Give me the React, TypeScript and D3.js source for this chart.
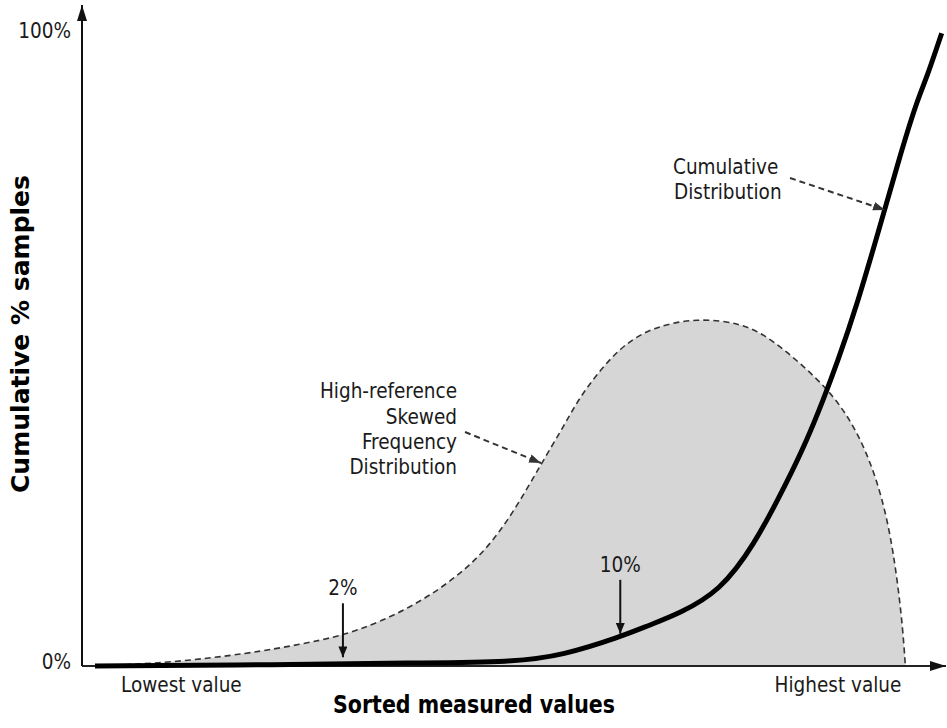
import React, { useEffect } from 'react';
import * as d3 from 'd3';

// Frequency distribution (dashed outline, grey fill), x in % of value range, y in % of chart height
const freqX = [1.5, 10.2, 19.4, 25.2, 29.9, 34.5, 40.3, 46.1, 49.9, 53.2, 55.7, 57.6, 60.0, 62.6, 66.1, 71.2, 76.2, 79.6, 85.4, 88.5, 90.9, 92.7, 93.9, 94.9, 95.3, 95.3];
const freqY = [0, 0.5, 2.0, 3.4, 4.7, 6.9, 10.9, 17.0, 24.1, 32.0, 37.7, 42.4, 46.7, 50.6, 53.5, 54.9, 54.1, 51.9, 45.1, 39.9, 33.6, 26.2, 18.3, 7.7, 0, 0];

// Cumulative distribution (thick black line)
const cumX = [1.5, 1.5, 22.9, 38.3, 49.9, 55.7, 62.3, 65.4, 69.2, 73.8, 77.7, 81.6, 83.9, 85.8, 87.4, 89.7, 92.7, 94.7, 96.6, 97.8, 99.5, 99.5];
const cumY = [0, 0, 0.2, 0.5, 0.6, 1.7, 4.6, 6.3, 8.3, 11.8, 18.8, 29.0, 35.6, 42.0, 47.8, 56.9, 71.0, 80.6, 89.0, 92.9, 99.8, 99.8];

// percentile pointers
const markerLabels = ['2%', '10%'];
const markerX = [30.2, 62.3];
const markerY = [0.9, 4.6];

const yTickLabels = ['0%', '100%'];
const yTickValues = [0, 100];
const xEndLabels = ['Lowest value', 'Highest value'];
const xEndValues = [11.5, 87.5];

const W = 947;
const H = 728;
const FONT = '"DejaVu Sans Condensed", "DejaVu Sans", Verdana, sans-serif';
const TEXT = '#1a1a1a';
const FS = 20.5;

export default function App() {
  useEffect(() => {
    document.body.style.margin = '0';
  }, []);

  const x = d3.scaleLinear().domain([0, 100]).range([82, 946]);
  const y = d3.scaleLinear().domain([0, 100]).range([666, 32]);

  const freq = freqX.map((v, i) => [v, freqY[i]] as [number, number]);
  const cum = cumX.map((v, i) => [v, cumY[i]] as [number, number]);

  const area = d3.area<[number, number]>()
    .x(d => x(d[0]))
    .y0(y(0))
    .y1(d => y(d[1]))
    .curve(d3.curveBasis);
  const freqLine = d3.line<[number, number]>()
    .x(d => x(d[0]))
    .y(d => y(d[1]))
    .curve(d3.curveBasis);
  const cumLine = d3.line<[number, number]>()
    .x(d => x(d[0]))
    .y(d => y(d[1]))
    .curve(d3.curveBasis);

  return (
    <svg width={W} height={H} style={{ display: 'block', background: '#fff' }} fontFamily={FONT}>
      <defs>
        <marker id="axisHeadLong" viewBox="0 0 16 10" refX="16" refY="5" markerWidth="16" markerHeight="10"
          markerUnits="userSpaceOnUse" orient="auto">
          <path d="M0,0 L16,5 L0,10 z" fill="#111" />
        </marker>
        <marker id="ptrHead" viewBox="0 0 12 10" refX="12" refY="5" markerWidth="11" markerHeight="9"
          markerUnits="userSpaceOnUse" orient="auto">
          <path d="M0,0 L12,5 L0,10 z" fill="#111" />
        </marker>
        <marker id="leadHead" viewBox="0 0 14 10" refX="14" refY="5" markerWidth="12" markerHeight="9"
          markerUnits="userSpaceOnUse" orient="auto">
          <path d="M0,0 L14,5 L0,10 z" fill="#333" />
        </marker>
      </defs>

      {/* frequency distribution */}
      <path d={area(freq) || ''} fill="#d6d6d6" />
      <path d={freqLine(freq) || ''} fill="none" stroke="#333" strokeWidth={1.6} strokeDasharray="6,4" />

      {/* axes */}
      <line x1={x(0)} y1={y(0)} x2={x(100)} y2={y(0)} stroke="#222" strokeWidth={2} markerEnd="url(#axisHeadLong)" />
      <line x1={x(0)} y1={y(0)} x2={x(0)} y2={5} stroke="#111" strokeWidth={2} markerEnd="url(#axisHeadLong)" />

      {/* cumulative distribution */}
      <path d={cumLine(cum) || ''} fill="none" stroke="#000" strokeWidth={5} strokeLinecap="butt" />

      {/* y tick labels */}
      {yTickLabels.map((t, i) => (
        <text key={t} x={71} y={y(yTickValues[i]) + (i === 0 ? -3 : 0)} textAnchor="end" dominantBaseline="middle"
          fontSize={FS} fill={TEXT}>{t}</text>
      ))}

      {/* x end labels */}
      {xEndLabels.map((t, i) => (
        <text key={t} x={x(xEndValues[i])} y={686} textAnchor="middle" dominantBaseline="middle"
          fontSize={FS} fill={TEXT}>{t}</text>
      ))}

      {/* percentile pointers */}
      {markerLabels.map((t, i) => {
        const px = x(markerX[i]);
        const tip = y(markerY[i]) - 3;
        return (
          <g key={t}>
            <text x={px} y={tip - 68} textAnchor="middle" dominantBaseline="middle" fontSize={FS} fill={TEXT}>{t}</text>
            <line x1={px} y1={tip - 54} x2={px} y2={tip} stroke="#111" strokeWidth={2} markerEnd="url(#ptrHead)" />
          </g>
        );
      })}

      {/* callouts */}
      <g fontSize={FS} fill={TEXT} textAnchor="start">
        <text x={673} y={168} dominantBaseline="middle">Cumulative</text>
        <text x={674} y={193} dominantBaseline="middle">Distribution</text>
      </g>
      <line x1={790} y1={178} x2={885} y2={210} stroke="#333" strokeWidth={2} strokeDasharray="6,4" markerEnd="url(#leadHead)" />

      <g fontSize={FS} fill={TEXT} textAnchor="end">
        <text x={457} y={392} dominantBaseline="middle">High-reference</text>
        <text x={457} y={418} dominantBaseline="middle">Skewed</text>
        <text x={457} y={443} dominantBaseline="middle">Frequency</text>
        <text x={457} y={468} dominantBaseline="middle">Distribution</text>
      </g>
      <line x1={465} y1={432} x2={541} y2={463} stroke="#333" strokeWidth={2} strokeDasharray="6,4" markerEnd="url(#leadHead)" />

      {/* axis titles */}
      <text x={474} y={706} textAnchor="middle" dominantBaseline="middle" fontSize={25} fontWeight="bold" fill="#000"
        textLength={282} lengthAdjust="spacingAndGlyphs">
        Sorted measured values
      </text>
      <text transform={`translate(22,334) rotate(-90)`} textAnchor="middle" dominantBaseline="middle" fontSize={25}
        fontWeight="bold" fill="#000" textLength={318} lengthAdjust="spacingAndGlyphs">
        Cumulative % samples
      </text>
    </svg>
  );
}
